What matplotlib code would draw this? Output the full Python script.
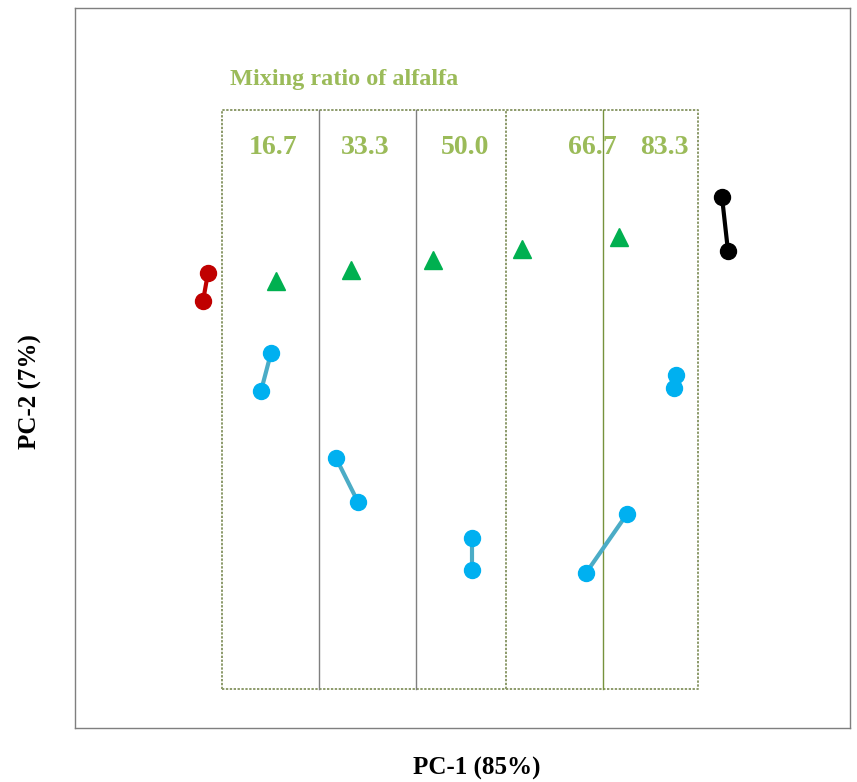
import numpy as np
import matplotlib.pyplot as plt

# PCA scores (arbitrary units, PC-1 horizontal, PC-2 vertical)
red_pc1 = [133, 128]
red_pc2 = [455, 427]
black_pc1 = [647, 653]
black_pc2 = [531, 477]

ratio_labels = ["16.7", "33.3", "50.0", "66.7", "83.3"]
mix_pc1 = [201, 276, 358, 447, 544]
mix_pc2 = [447, 458, 468, 479, 491]

# replicate pairs (first, second) for each mixing ratio
rep_pc1 = [(196, 186), (261, 283), (397, 397), (552, 511), (601, 599)]
rep_pc2 = [(375, 337), (270, 226), (190, 158), (214, 155), (353, 340)]

# panel grid of the mixing ratio box
box_left, box_right = 147, 623
box_bottom, box_top = 39, 618
dividers = [244, 341, 431, 528]
label_pc1 = [198, 290, 390, 517, 589]

fig = plt.figure(figsize=(8.57, 7.82), dpi=100)
ax = fig.add_axes([75 / 857, 54 / 782, 775 / 857, 720 / 782])
ax.set_xlim(0, 775)
ax.set_ylim(0, 720)
ax.set_xticks([])
ax.set_yticks([])
for s in ax.spines.values():
    s.set_color("#7f7f7f")
    s.set_linewidth(1)

serif = ["Liberation Serif", "DejaVu Serif"]
olive = "#9BBB59"
frame = "#8c9a6a"
dots = (0, (1.2, 0.8))

# box around the mixing-ratio panels
ax.plot([box_left, box_right, box_right, box_left, box_left],
        [box_bottom, box_bottom, box_top, box_top, box_bottom],
        color=frame, lw=1.4, ls=dots)
for i, xd in enumerate(dividers):
    if i == 2:
        ax.plot([xd, xd], [box_bottom, box_top], color=frame, lw=1.4, ls=dots)
    elif i == 3:
        ax.plot([xd, xd], [box_bottom, box_top], color="#76923C", lw=1)
    else:
        ax.plot([xd, xd], [box_bottom, box_top], color="#7f7f7f", lw=1)

for xl, lab in zip(label_pc1, ratio_labels):
    ax.text(xl, 580, lab, ha="center", va="center", fontsize=20,
            fontweight="bold", family=serif, color=olive)
ax.text(155, 648, "Mixing ratio of alfalfa", ha="left", va="center",
        fontsize=17.5, fontweight="bold", family=serif, color=olive)

# pure feeds
ax.plot(red_pc1, red_pc2, color="#C00000", lw=3, marker="o", ms=11.5)
ax.plot(black_pc1, black_pc2, color="black", lw=3, marker="o", ms=11.5)

# mixtures
for xs, ys in zip(rep_pc1, rep_pc2):
    ax.plot(xs, ys, color="#4BACC6", lw=3, zorder=2)
    ax.plot(xs, ys, ls="none", marker="o", ms=11.5, color="#00B0F0", zorder=3)
ax.plot(mix_pc1, mix_pc2, ls="none", marker="^", ms=13, color="#00B050")

fig.text(477 / 857, 1 - 768 / 782, "PC-1 (85%)", ha="center", va="center",
         fontsize=18, fontweight="bold", family=serif)
fig.text(30 / 857, 1 - 392 / 782, "PC-2 (7%)", ha="center", va="center",
         rotation=90, fontsize=18, fontweight="bold", family=serif)

fig.savefig("out.png", dpi=100)
